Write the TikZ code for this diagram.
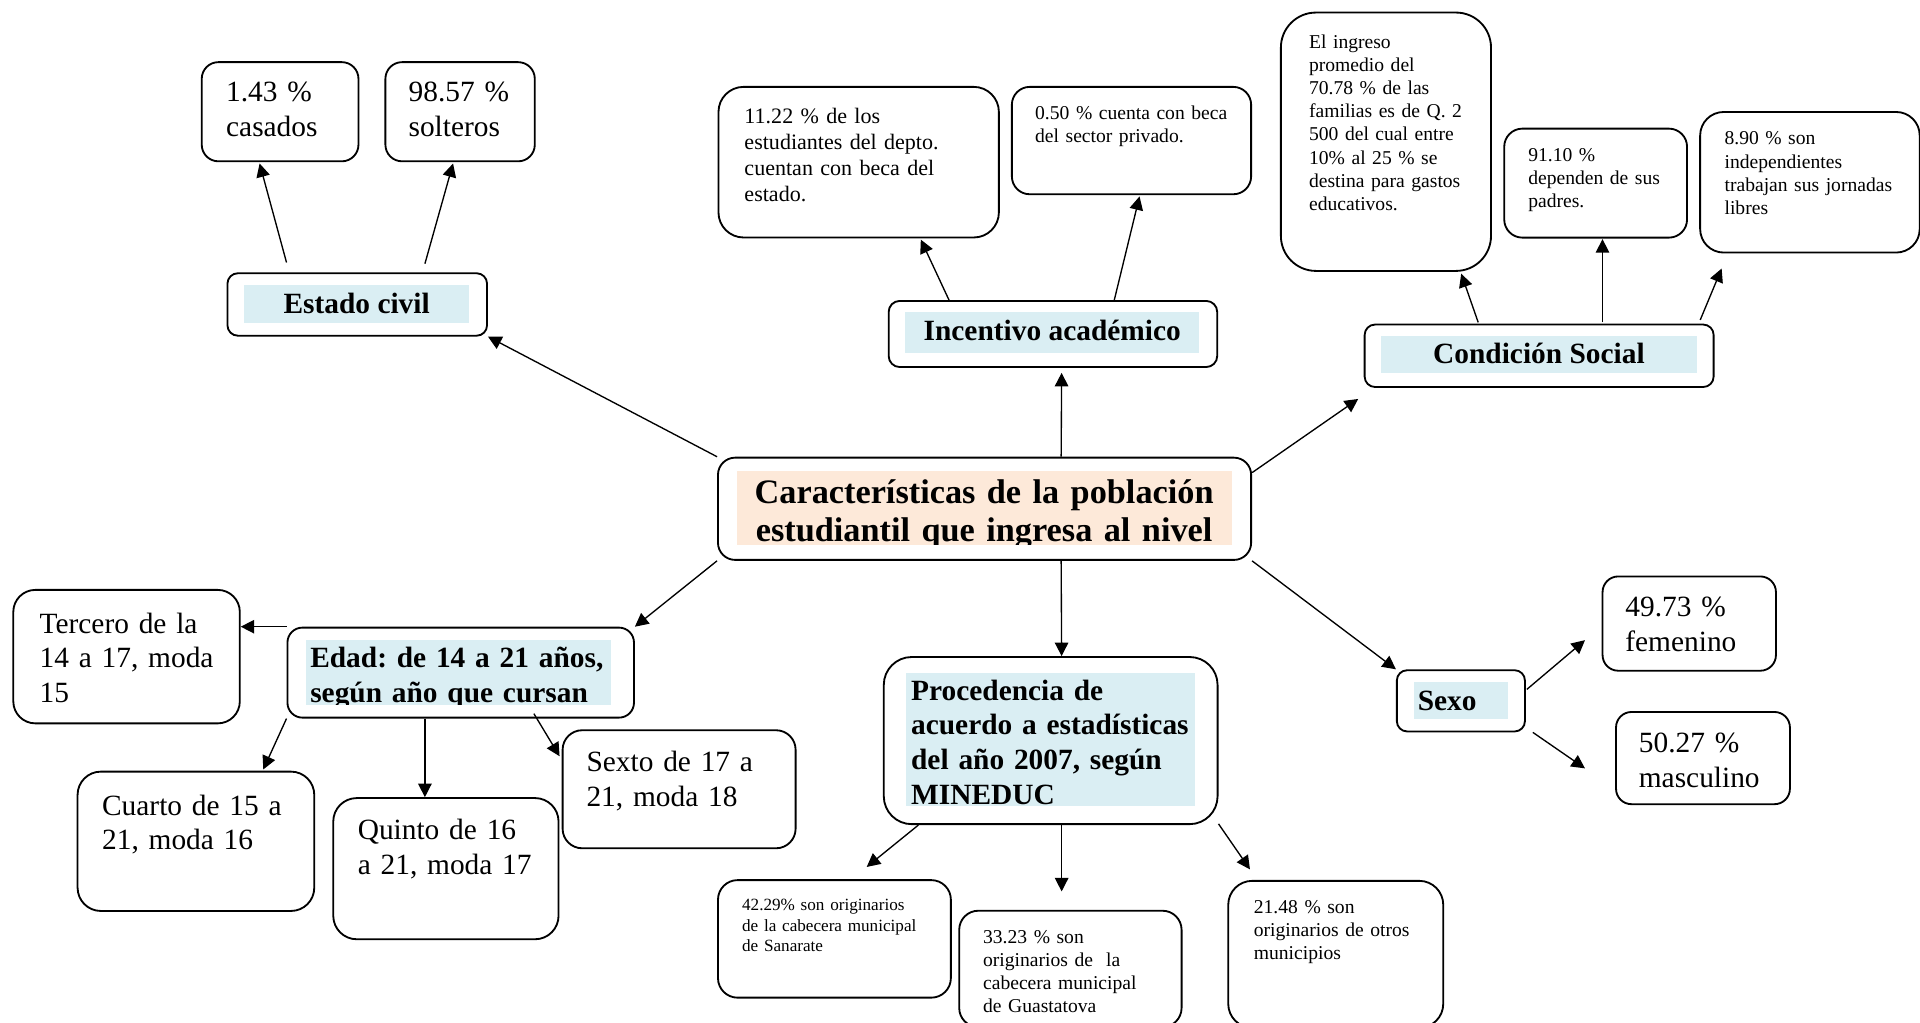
\documentclass[tikz,border=0pt]{standalone}
\usepackage{fontspec}
\setmainfont{Liberation Serif}
\usetikzlibrary{calc,arrows.meta}
\definecolor{celeste}{HTML}{DAEEF3}
\definecolor{salmon}{HTML}{FDE9D9}
\frenchspacing

\begin{document}
\begin{tikzpicture}[
        x=0.5pt, y=-0.5pt,
        caja/.style={draw, line width=0.75pt, inner sep=0pt, anchor=north west},
        texto/.style={inner sep=0pt, anchor=base west, align=left},
        grande/.style={font=\fontsize{12}{14.2}\selectfont},
        negrita/.style={font=\bfseries\fontsize{12}{14.2}\selectfont},
        mediano/.style={font=\fontsize{9}{10.65}\selectfont},
        chico/.style={font=\fontsize{8}{9.45}\selectfont},
        minimo/.style={font=\fontsize{7}{8.4}\selectfont},
        flecha/.style={-{Triangle[length=5.5pt, width=5.5pt]}, line width=0.55pt}
      ]

      \useasboundingbox (0,0) rectangle (1568,835);

      \node (cas) [caja, rounded corners=6.8pt, minimum width=64pt, minimum height=40.5pt] at (164,50) {};
      \node (sol) [caja, rounded corners=6.8pt, minimum width=61pt, minimum height=40.5pt] at (314,50) {};
      \node (ec) [caja, rounded corners=4.25pt, minimum width=106pt, minimum height=25.5pt] at (185,222.4) {};
      \node (bes) [caja, rounded corners=10.25pt, minimum width=114.5pt, minimum height=61.5pt] at (586,70.2) {};
      \node (bpr) [caja, rounded corners=7.3pt, minimum width=97.7pt, minimum height=43.85pt] at (825.6,70.2) {};
      \node (ia) [caja, rounded corners=4.5pt, minimum width=134.15pt, minimum height=27pt] at (725,245) {};
      \node (ing) [caja, rounded corners=14.3pt, minimum width=85.8pt, minimum height=105.5pt] at (1045.3,9.5) {};
      \node (dep) [caja, rounded corners=7.4pt, minimum width=74.65pt, minimum height=44.5pt] at (1227.7,104.3) {};
      \node (ind) [caja, rounded corners=9.6pt, minimum width=89.65pt, minimum height=57.4pt] at (1387.7,90.7) {};
      \node (cs) [caja, rounded corners=4.25pt, minimum width=142.5pt, minimum height=25.5pt] at (1113.7,264.3) {};
      \node (car) [caja, rounded corners=7pt, minimum width=217.7pt, minimum height=41.75pt] at (585.6,373) {};
      \node (ter) [caja, rounded corners=9pt, minimum width=92.5pt, minimum height=54.5pt] at (10.1,481) {};
      \node (ed) [caja, rounded corners=6.1pt, minimum width=141.5pt, minimum height=36.75pt] at (234,511.8) {};
      \node (cua) [caja, rounded corners=9.5pt, minimum width=96.65pt, minimum height=56.9pt] at (62.6,629.4) {};
      \node (qui) [caja, rounded corners=9.6pt, minimum width=92pt, minimum height=57.65pt] at (271.4,651) {};
      \node (sto) [caja, rounded corners=8pt, minimum width=95.15pt, minimum height=48.2pt] at (458.7,595.6) {};
      \node (pro) [caja, rounded corners=11.4pt, minimum width=136.3pt, minimum height=68.25pt] at (721,535.8) {};
      \node (san) [caja, rounded corners=8pt, minimum width=95.1pt, minimum height=48pt] at (585.6,718) {};
      \node (gua) [caja, rounded corners=7.8pt, minimum width=90.8pt, minimum height=47.5pt] at (782.6,743) {};
      \node (otr) [caja, rounded corners=9.8pt, minimum width=87.8pt, minimum height=60pt] at (1002.3,718.6) {};
      \node (sx) [caja, rounded corners=4.2pt, minimum width=52.3pt, minimum height=25pt] at (1140,546.6) {};
      \node (fem) [caja, rounded corners=6.4pt, minimum width=70.8pt, minimum height=38.5pt] at (1308,470) {};
      \node (mas) [caja, rounded corners=6.3pt, minimum width=71pt, minimum height=37.65pt] at (1319,580.7) {};

      \fill[celeste] (199.4,232.8) rectangle (383.3,263.5);
      \fill[celeste] (739.3,255) rectangle (979.3,288.5);
      \fill[celeste] (1127.6,274.4) rectangle (1386,304.9);
      \fill[celeste] (740,550) rectangle (976,658);
      \fill[celeste] (1154.8,557) rectangle (1231.2,587);

      \node (cast) [texto, grande, text width=60pt] at (184.3,83) {1.43 \%\\casados};
      \node (solt) [texto, grande, text width=60pt] at (333.3,83) {98.57 \%\\solteros};
      \node (ect) [texto, negrita, anchor=base] at (291.3,256) {Estado civil};
      \node (best) [texto, mediano, text width=110pt] at (607.6,100.7) {11.22 \% de los\\estudiantes del depto.\\cuentan con beca del\\estado.};
      \node (bprt) [texto, chico, text width=95pt] at (845,97.5) {0.50 \% cuenta con beca\\del sector privado.};
      \node (iat) [texto, negrita, anchor=base] at (859.3,278.2) {Incentivo académico};
      \node (ingt) [texto, chico, text width=80pt] at (1068.7,39.5) {El ingreso\\promedio del\\70.78 \% de las\\familias es de Q. 2\\500 del cual entre\\10\% al 25 \% se\\destina para gastos\\educativos.};
      \node (dept) [texto, chico, text width=70pt] at (1247.7,132) {91.10 \%\\dependen de sus\\padres.};
      \node (indt) [texto, chico, text width=85pt] at (1408,118.4) {8.90 \% son\\independientes\\trabajan sus jornadas\\libres};
      \node (cst) [texto, negrita, anchor=base] at (1256.8,296.7) {Condición Social};

      \begin{scope}
        \clip (601.6,384.7) rectangle (1006,445);
        \fill[salmon] (601.6,384.7) rectangle (1006,445);
        \node (cart) [texto, font=\bfseries\fontsize{14}{15.6}\selectfont, anchor=base, align=center, text width=230pt] at (803.7,411) {Características de la población\\estudiantil que ingresa al nivel};
      \end{scope}

      \begin{scope}
        \clip (250,523) rectangle (499,575.5);
        \fill[celeste] (250,523) rectangle (499,575.5);
        \node (edt) [texto, negrita, text width=135pt] at (253,545) {Edad: de 14 a 21 años,\\según año que cursan};
      \end{scope}

      \node (tert) [texto, grande, text width=90pt] at (32,517) {Tercero de la\\14 a 17, moda\\15};
      \node (cuat) [texto, grande, text width=90pt] at (83,665.6) {Cuarto de 15 a\\21, moda 16};
      \node (quit) [texto, grande, text width=90pt] at (291.8,685.5) {Quinto de 16\\a 21, moda 17};
      \node (stot) [texto, grande, text width=90pt] at (478.6,630.2) {Sexto de 17 a\\21, moda 18};
      \node (prot) [texto, negrita, text width=130pt] at (743.7,571.7) {Procedencia de\\acuerdo a estadísticas\\del año 2007, según\\MINEDUC};
      \node (sant) [texto, minimo, text width=90pt] at (605.7,743.7) {42.29\% son originarios\\de la cabecera municipal\\de Sanarate};
      \node (guat) [texto, chico, text width=85pt] at (802.5,770.4) {33.23 \% son\\originarios de \ la\\cabecera municipal\\de Guastatova};
      \node (otrt) [texto, chico, text width=85pt] at (1023.6,745.9) {21.48 \% son\\originarios de otros\\municipios};
      \node (sxt) [texto, negrita] at (1157.5,580.4) {Sexo};
      \node (femt) [texto, grande, text width=65pt] at (1327,503.6) {49.73 \%\\femenino};
      \node (mast) [texto, grande, text width=65pt] at (1338,614.7) {50.27 \%\\masculino};

      \draw[flecha] (car.north west) -- (ec.south east);
      \draw[flecha] ($(car.north west)+(281,0)$) -- ($(ia.south west)+(142,4)$);
      \draw[flecha] ($(car.north east)+(0,13)$) -- ($(cs.south west)+(-4.5,9)$);
      \draw[flecha] (car.south west) -- (ed.north east);
      \draw[flecha] ($(car.south west)+(281,0)$) -- ($(pro.north west)+(146,0)$);
      \draw[flecha] (car.south east) -- (sx.north west);

      \draw[flecha] ($(ec.north west)+(49,-8)$) -- ($(cas.south west)+(48,1)$);
      \draw[flecha] ($(ec.north west)+(162,-7)$) -- ($(sol.south west)+(56,1)$);
      \draw[flecha] ($(ia.north west)+(50,0)$) -- ($(bes.south west)+(166,1)$);
      \draw[flecha] ($(ia.north west)+(185,0)$) -- ($(bpr.south west)+(105,1)$);
      \draw[flecha] ($(cs.north west)+(93.5,-1)$) -- ($(ing.south west)+(148,1.5)$);
      \draw[flecha] ($(cs.north west)+(195,-1)$) -- ($(dep.south west)+(81,0.5)$);
      \draw[flecha] ($(cs.north east)+(-11.7,-3)$) -- ($(ind.south west)+(18.3,12.3)$);

      \draw[flecha] (ed.north west) -- (ter.east |- ed.north west);
      \draw[flecha] (ed.south west) -- ($(cua.north west)+(152.4,-1)$);
      \draw[flecha] ($(ed.south west)+(113,0)$) -- ($(qui.north west)+(75.6,0)$);
      \draw[flecha] ($(ed.south west)+(202,-4)$) -- ($(sto.north west)+(-1.7,22)$);

      \draw[flecha] ($(pro.south west)+(29,0)$) -- ($(san.north west)+(122.2,-10)$);
      \draw[flecha] ($(pro.south west)+(146,0)$) -- ($(gua.north west)+(84.4,-15)$);
      \draw[flecha] ($(pro.south east)+(0,-1)$) -- ($(otr.north west)+(18.5,-8.6)$);
      \draw[flecha] ($(sx.north east)+(0.8,16.4)$) -- ($(fem.south west)+(-13.6,-25.7)$);
      \draw[flecha] ($(sx.south east)+(5.7,0)$) -- ($(mas.north west)+(-24.6,46.8)$);

    \end{tikzpicture}
\end{document}
